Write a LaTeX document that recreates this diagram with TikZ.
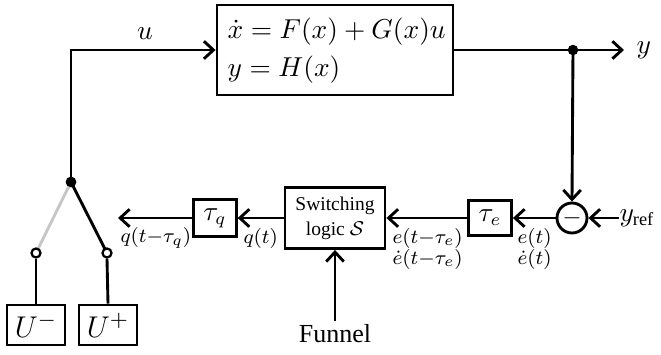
\documentclass[tikz,border=0pt]{standalone}
\usepackage{fontspec}
\setmainfont{Liberation Serif}
\usetikzlibrary{arrows.meta}
\tikzset{
  x=0.4pt, y=-0.4pt,
  wire/.style={line width=1.15pt},
  arr/.style={wire, -{Straight Barb[length=3.8pt,width=7pt,line width=1.15pt]}},
  blockbox/.style={draw, line width=1.15pt, rectangle, inner sep=1pt},
  lbl/.style={font=\fontsize{8.2}{8.8}\selectfont, anchor=west, inner sep=0pt},
  eqtext/.style={font=\fontsize{11.2}{13}\selectfont, anchor=west, inner sep=0pt},
  jdot/.style={circle, fill=black, minimum size=4.2pt, inner sep=0pt},
  odot/.style={circle, draw, fill=white, line width=0.9pt, minimum size=3.6pt, inner sep=0pt},
}
\begin{document}
\begin{tikzpicture}
\useasboundingbox (0,0) rectangle (661,354);
% plant
\node[blockbox, minimum width=94.4pt, minimum height=36pt] (plant) at (335,50) {};
\node[eqtext] (eq1) at (227,32) {$\dot x = F(x) + G(x)u$};
\node[eqtext] (eq2) at (227,70) {$y = H(x)$};
% output
\node[jdot] (o) at (573,50) {};
\coordinate (yend) at (624,50);
\node[anchor=west, inner sep=0pt, font=\fontsize{10.5}{12}\selectfont] (ylab) at (636,50) {$y$};
\draw[wire] (plant.east) -- (o.center);
\draw[arr] (o.center) -- (yend);
% sum
\node[circle, draw, line width=1.15pt, minimum size=12pt, inner sep=0pt] (sum) at (572,218) {$-$};
\draw[arr] (o.center) -- (sum.north);
\node[anchor=west, inner sep=0pt, font=\fontsize{10.5}{12}\selectfont] (yref) at (619,218) {$y_{\mathrm{ref}}$};
\draw[arr] (yref.west) -- (sum.east);
% delays and switching logic
\node[blockbox, minimum width=17.2pt, minimum height=14pt, font=\fontsize{10.5}{12}\selectfont] (taue) at (490,218) {$\tau_e$};
\node[blockbox, minimum width=40pt, minimum height=24.4pt, align=center,
      font=\fontsize{7.8}{10}\selectfont] (sw) at (335,218) {Switching\\logic $\mathcal{S}$};
\node[blockbox, minimum width=17pt, minimum height=14.6pt, font=\fontsize{10.5}{12}\selectfont] (tauq) at (215,218) {$\tau_q$};
\coordinate (qout) at (118,218);
\draw[arr] (sum.west) -- (taue.east);
\draw[arr] (taue.west) -- (sw.east);
\draw[arr] (sw.west) -- (tauq.east);
\draw[arr] (tauq.west) -- (qout);
% labels
\node[lbl] (le1) at (517,238) {$e(t)$};
\node[lbl] (le2) at (517,259) {$\dot e(t)$};
\node[lbl] (led1) at (392,238) {$e(t{-}\tau_e)$};
\node[lbl] (led2) at (392,259) {$\dot e(t{-}\tau_e)$};
\node[lbl] (lq) at (243,238) {$q(t)$};
\node[lbl] (lqd) at (120,238) {$q(t{-}\tau_q)$};
% funnel
\node[anchor=north, inner sep=1pt, font=\fontsize{10.4}{12}\selectfont] (funnel) at (335,321) {Funnel};
\draw[arr] (funnel.north) -- (sw.south);
% switch
\node[jdot] (j) at (71,182) {};
\draw[arr] (j.center) |- (plant.west);
\node[blockbox, minimum width=23.2pt, minimum height=16pt, font=\fontsize{12.5}{14}\selectfont] (um) at (36,325) {$U^{-}$};
\node[blockbox, minimum width=23.2pt, minimum height=16pt, font=\fontsize{12.5}{14}\selectfont] (up) at (108,325) {$U^{+}$};
\draw[wire, gray!45] (j.center) -- (36,253);
\draw[wire] (j.center) -- (107,253);
\node[odot] (cm) at (36,253) {};
\node[odot] (cp) at (107,253) {};
\draw[wire] (cm.south) -- (um.north);
\draw[wire] (cp.south) -- (up.north);
\node[jdot] at (j) {};
\node[anchor=south, inner sep=0pt, font=\fontsize{10.5}{12}\selectfont] (ulab) at (145,40) {$u$};
\end{tikzpicture}
\end{document}
